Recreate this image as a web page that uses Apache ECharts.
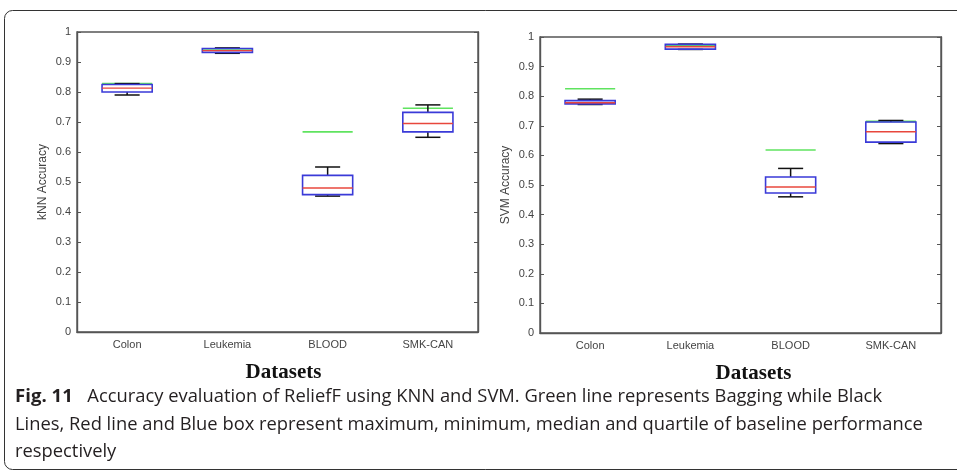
<!DOCTYPE html>
<html>
<head>
<meta charset="utf-8">
<script src="https://cdn.jsdelivr.net/npm/echarts@6.0.0/dist/echarts.min.js"></script>
<style>
  * { margin: 0; padding: 0; }
  body { background: #fff; }
  #main { width: 957px; height: 470px; }
</style>
</head>
<body>
<div id="main"></div>
<script type="text/javascript">
// datasets on the x axis
var categories = ['Colon', 'Leukemia', 'BLOOD', 'SMK-CAN'];
var yTicks = ['0', '0.1', '0.2', '0.3', '0.4', '0.5', '0.6', '0.7', '0.8', '0.9', '1'];

// kNN baseline: min, q1, median, q3, max ; bagging (green)
var knnMin    = [0.790, 0.929, 0.453, 0.649];
var knnQ1     = [0.800, 0.932, 0.458, 0.667];
var knnMedian = [0.813, 0.938, 0.480, 0.695];
var knnQ3     = [0.825, 0.945, 0.522, 0.732];
var knnMax    = [0.828, 0.947, 0.550, 0.757];
var knnBagging = [0.828, 0.940, 0.667, 0.746];

// SVM baseline
var svmMin    = [0.772, 0.958, 0.460, 0.640];
var svmQ1     = [0.774, 0.959, 0.473, 0.645];
var svmMedian = [0.778, 0.967, 0.493, 0.680];
var svmQ3     = [0.785, 0.975, 0.527, 0.713];
var svmMax    = [0.790, 0.976, 0.556, 0.718];
var svmBagging = [0.825, 0.970, 0.618, 0.715];

var captionLines = [
    'Accuracy evaluation of ReliefF using KNN and SVM. Green line represents Bagging while Black',
    'Lines, Red line and Blue box represent maximum, minimum, median and quartile of baseline performance',
    'respectively'
];

function boxData(mn, q1, md, q3, mx) {
    return categories.map(function (c, i) { return [i, mn[i], q1[i], md[i], q3[i], mx[i]]; });
}
function lineData(v) {
    return categories.map(function (c, i) { return [i, v[i]]; });
}

function renderBox(params, api) {
    var i = api.value(0);
    var lo = api.coord([i, api.value(1)]);
    var q1 = api.coord([i, api.value(2)]);
    var md = api.coord([i, api.value(3)]);
    var q3 = api.coord([i, api.value(4)]);
    var hi = api.coord([i, api.value(5)]);
    var band = api.size([1, 0])[0];
    var bw = band * 0.5, cw = band * 0.25;
    var x = lo[0];
    var black = { stroke: '#111', lineWidth: 1.5 };
    return {
        type: 'group',
        children: [
            { type: 'line', shape: { x1: x, y1: hi[1], x2: x, y2: q3[1] }, style: black },
            { type: 'line', shape: { x1: x, y1: lo[1], x2: x, y2: q1[1] }, style: black },
            { type: 'line', shape: { x1: x - cw / 2, y1: hi[1], x2: x + cw / 2, y2: hi[1] }, style: black },
            { type: 'line', shape: { x1: x - cw / 2, y1: lo[1], x2: x + cw / 2, y2: lo[1] }, style: black },
            { type: 'rect', shape: { x: x - bw / 2, y: q3[1], width: bw, height: q1[1] - q3[1] },
              style: { fill: 'none', stroke: '#3a3ad8', lineWidth: 1.6 } },
            { type: 'line', shape: { x1: x - bw / 2, y1: md[1], x2: x + bw / 2, y2: md[1] },
              style: { stroke: '#e8473c', lineWidth: 1.4 } }
        ]
    };
}

function renderGreen(params, api) {
    var i = api.value(0);
    var p = api.coord([i, api.value(1)]);
    var bw = api.size([1, 0])[0] * 0.5;
    return {
        type: 'line',
        shape: { x1: p[0] - bw / 2, y1: p[1], x2: p[0] + bw / 2, y2: p[1] },
        style: { stroke: '#5fe35f', lineWidth: 1.6 }
    };
}

var axisFont = { fontFamily: 'Liberation Sans', fontSize: 11, color: '#444' };

function xAxisFor(gi, pad) {
    return {
        type: 'category', gridIndex: gi, data: categories,
        axisLine: { lineStyle: { color: '#555', width: 1.4 } },
        axisTick: { show: false },
        axisLabel: Object.assign({ margin: 7 }, axisFont),
        name: 'Datasets', nameLocation: 'middle', nameGap: 30,
        nameTextStyle: { fontFamily: 'Liberation Serif', fontWeight: 'bold', fontSize: 21, color: '#111', padding: [0, 0, 0, pad] }
    };
}
function yAxisFor(gi, name) {
    return {
        type: 'value', gridIndex: gi, min: 0, max: 1, interval: 0.1,
        axisLine: { show: true, lineStyle: { color: '#555', width: 1.4 } },
        axisTick: { show: true, inside: true, length: 4, lineStyle: { color: '#555' } },
        axisLabel: Object.assign({ margin: 6, formatter: function (v) { return yTicks[Math.round(v * 10)]; } }, axisFont),
        splitLine: { show: false },
        name: name, nameLocation: 'middle', nameGap: 28,
        nameTextStyle: { fontFamily: 'Liberation Sans', fontSize: 12, color: '#444' }
    };
}
function yRightFor(gi) {
    return {
        type: 'value', gridIndex: gi, position: 'right', min: 0, max: 1, interval: 0.1,
        axisLine: { show: true, lineStyle: { color: '#555', width: 1.4 } },
        axisTick: { show: true, inside: true, length: 4, lineStyle: { color: '#555' } },
        axisLabel: { show: false },
        splitLine: { show: false }
    };
}

var capStyle = { fontFamily: 'Open Sans', fontSize: 18.35, fill: '#231f20', verticalAlign: 'middle' };

var myChart = echarts.init(document.getElementById('main'));
myChart.setOption({
    backgroundColor: '#fff',
    animation: false,
    grid: [
        { left: 77, top: 32, width: 401, height: 300, show: true, borderColor: '#555', borderWidth: 1.4 },
        { left: 540, top: 37, width: 401, height: 296, show: true, borderColor: '#555', borderWidth: 1.4 }
    ],
    xAxis: [xAxisFor(0, 12), xAxisFor(1, 26)],
    yAxis: [yAxisFor(0, 'kNN Accuracy'), yRightFor(0), yAxisFor(1, 'SVM Accuracy'), yRightFor(1)],
    series: [
        { type: 'custom', xAxisIndex: 0, yAxisIndex: 0, renderItem: renderGreen, data: lineData(knnBagging), z: 2 },
        { type: 'custom', xAxisIndex: 0, yAxisIndex: 0, renderItem: renderBox,
          data: boxData(knnMin, knnQ1, knnMedian, knnQ3, knnMax), z: 3 },
        { type: 'custom', xAxisIndex: 1, yAxisIndex: 2, renderItem: renderGreen, data: lineData(svmBagging), z: 2 },
        { type: 'custom', xAxisIndex: 1, yAxisIndex: 2, renderItem: renderBox,
          data: boxData(svmMin, svmQ1, svmMedian, svmQ3, svmMax), z: 3 }
    ],
    graphic: [
        { type: 'rect', z: -1,
          shape: { x: 4.5, y: 10.5, width: 2000, height: 459, r: 8 },
          style: { fill: 'none', stroke: '#333', lineWidth: 1 } },
        { type: 'text',
          style: Object.assign({ x: 15, y: 397,
                   text: '{b|Fig. 11}  ' + captionLines[0],
                   rich: { b: { fontFamily: 'Open Sans', fontWeight: 'bold', fontSize: 18.6, fill: '#231f20', padding: [0, 5, 0, 0] } } }, capStyle) },
        { type: 'text', style: Object.assign({ x: 15, y: 425, text: captionLines[1] }, capStyle) },
        { type: 'text', style: Object.assign({ x: 15, y: 452, text: captionLines[2] }, capStyle) }
    ]
});
</script>
</body>
</html>
